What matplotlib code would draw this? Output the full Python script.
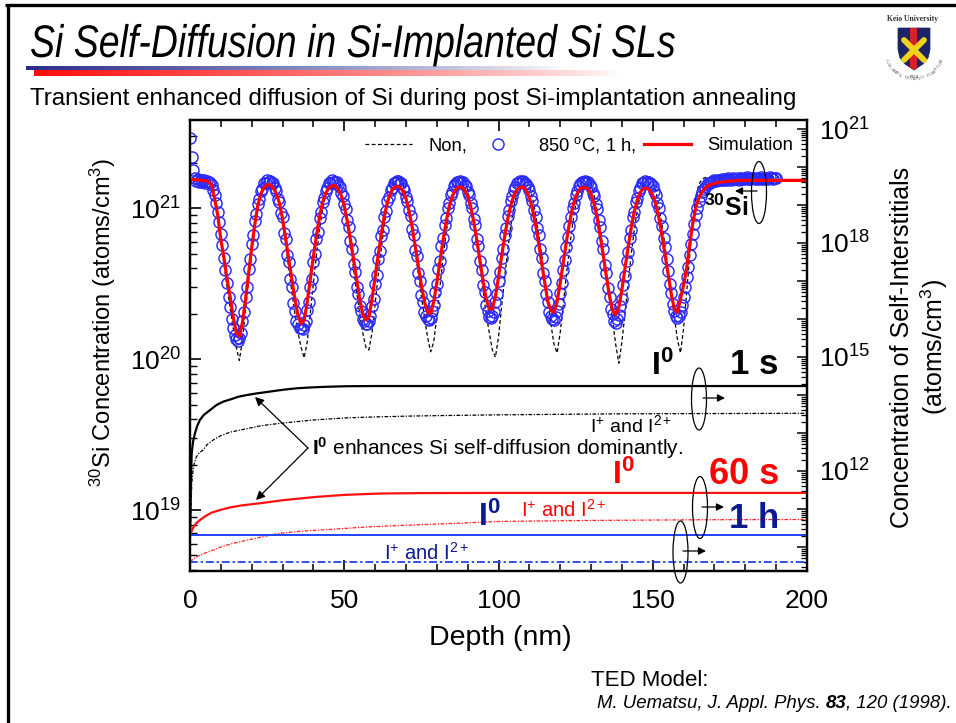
import numpy as np
import matplotlib
matplotlib.use("Agg")
import matplotlib.pyplot as plt
from matplotlib import font_manager
from matplotlib.ticker import LogLocator, FuncFormatter, MultipleLocator, NullFormatter
from matplotlib.patches import Ellipse, Polygon, Rectangle, PathPatch
from matplotlib.lines import Line2D
from matplotlib.textpath import TextPath
from matplotlib.font_manager import FontProperties
from matplotlib.transforms import Affine2D

plt.rcParams['font.family'] = ['Liberation Sans', 'DejaVu Sans']
plt.rcParams['mathtext.fontset'] = 'custom'
plt.rcParams['mathtext.rm'] = 'Liberation Sans'
plt.rcParams['mathtext.it'] = 'Liberation Sans:italic'
plt.rcParams['mathtext.bf'] = 'Liberation Sans:bold'
plt.rcParams['mathtext.default'] = 'regular'

# ---------------- data ----------------
# Simulation (850 C, 1 h), 30Si concentration in units of 1e20 atoms/cm3, every 1 nm 0..200
sim_e20 = [
    15.5, 15.5, 15.4, 15.4, 15.3, 15.2, 15.0, 14.3, 11.5, 9.0,
    6.2, 4.7, 3.4, 2.6, 1.9, 1.5, 1.42, 1.75, 2.5, 3.7,
    5.5, 7.8, 10.5, 12.5, 13.7, 14.3, 14.3, 13.6, 12.5, 10.8,
    8.5, 6.3, 4.6, 3.4, 2.5, 1.95, 1.72, 1.8, 2.4, 3.4,
    4.8, 6.6, 8.8, 11.0, 12.6, 13.6, 14.1, 14.1, 13.4, 12.2,
    10.4, 8.2, 6.2, 4.6, 3.4, 2.5, 2.0, 1.82, 1.9, 2.5,
    3.5, 4.9, 6.7, 8.9, 11.0, 12.6, 13.6, 14.0, 13.8, 13.0,
    11.6, 9.6, 7.5, 5.6, 4.2, 3.1, 2.4, 2.05, 2.0, 2.4,
    3.2, 4.4, 6.1, 8.1, 10.2, 12.0, 13.2, 13.8, 13.8, 13.2,
    12.0, 10.2, 8.1, 6.1, 4.5, 3.3, 2.5, 2.15, 2.15, 2.6,
    3.5, 4.8, 6.5, 8.5, 10.5, 12.2, 13.3, 13.8, 13.8, 13.1,
    11.8, 9.9, 7.8, 5.9, 4.3, 3.2, 2.4, 2.1, 2.05, 2.4,
    3.2, 4.4, 6.0, 8.0, 10.1, 11.9, 13.1, 13.7, 13.8, 13.4,
    12.4, 10.7, 8.6, 6.5, 4.8, 3.5, 2.6, 2.1, 1.97, 2.2,
    2.9, 4.0, 5.5, 7.4, 9.5, 11.4, 12.8, 13.5, 13.6, 13.2,
    12.2, 10.6, 8.6, 6.6, 4.9, 3.6, 2.7, 2.15, 2.05, 2.5,
    3.1, 4.0, 5.8, 8.0, 10.2, 11.8, 12.9, 13.6, 14.1, 14.4,
    14.6, 14.8, 14.9, 15.0, 15.1, 15.1, 15.2, 15.2, 15.3, 15.3,
    15.3, 15.3, 15.3, 15.3, 15.3, 15.3, 15.3, 15.3, 15.3, 15.3,
    15.3, 15.3, 15.3, 15.3, 15.3, 15.3, 15.3, 15.3, 15.3, 15.3,
    15.3]
sim_depth = np.arange(len(sim_e20)) * 1.0

# As-grown ("Non") profile, 1e20 units, every 1 nm 0..190
non_e20 = [
    15.8, 15.6, 15.7, 15.5, 15.6, 15.4, 15.3, 14.5, 11.5, 8.5,
    6.0, 4.3, 3.0, 2.2, 1.6, 1.2, 0.98, 1.35, 2.1, 3.3,
    5.0, 7.4, 10.2, 12.8, 14.8, 16.0, 16.8, 15.5, 13.0, 10.5,
    8.0, 5.8, 4.0, 2.8, 2.0, 1.5, 1.2, 1.02, 1.3, 2.0,
    3.2, 4.9, 7.2, 9.8, 12.4, 14.5, 15.8, 16.3, 15.3, 13.0,
    10.4, 7.9, 5.7, 4.0, 2.8, 2.0, 1.5, 1.2, 1.15, 1.5,
    2.3, 3.6, 5.4, 7.8, 10.5, 13.0, 15.0, 16.0, 16.2, 14.6,
    12.2, 9.6, 7.2, 5.2, 3.7, 2.6, 1.9, 1.4, 1.12, 1.3,
    1.9, 3.0, 4.6, 6.8, 9.4, 12.0, 14.3, 15.7, 16.3, 15.4,
    13.2, 10.6, 8.0, 5.8, 4.1, 2.9, 2.0, 1.5, 1.15, 1.03,
    1.4, 2.2, 3.5, 5.3, 7.7, 10.3, 12.8, 14.9, 16.0, 15.9,
    14.2, 11.8, 9.2, 6.8, 4.9, 3.4, 2.4, 1.7, 1.25, 1.1,
    1.5, 2.3, 3.6, 5.4, 7.8, 10.4, 12.9, 14.9, 16.0, 16.2,
    14.6, 12.2, 9.6, 7.2, 5.2, 3.7, 2.6, 1.8, 1.25, 0.94,
    1.3, 2.0, 3.2, 4.9, 7.2, 9.8, 12.4, 14.6, 15.9, 16.4,
    15.2, 12.9, 10.3, 7.8, 5.6, 3.9, 2.7, 1.9, 1.35, 1.1,
    1.6, 2.8, 5.0, 8.5, 12.0, 14.5, 15.6, 16.0, 15.8, 15.9,
    15.7, 15.8, 16.0, 15.8, 15.9, 15.7, 15.8, 16.0, 15.9, 15.8,
    15.9, 15.7, 15.8, 16.0, 15.9, 15.8, 15.7, 15.9, 15.8, 16.0,
    15.9]
non_depth = np.arange(len(non_e20)) * 1.0

# Measured 850 C 1 h profile, 1e20 units, every 0.5 nm 0..190
meas_e20 = [
    29, 22, 18, 15.8, 15.2, 15.6, 14.9, 15.4, 15.0, 15.3, 14.8, 15.2, 14.9, 14.6,
    14.2, 13.3, 12.2, 10.9, 9.5, 8.1, 6.8, 5.7, 4.7, 3.9, 3.2, 2.6, 2.2, 1.85, 1.6, 1.45, 1.37,
    1.32,
    1.38, 1.50, 1.80, 2.05, 2.6, 3.0, 3.95, 4.6, 5.8, 6.6, 8.2, 9.1, 10.7, 11.5, 13.0, 13.5, 14.6, 14.7, 15.3, 15.0,
    15.2, 14.6, 14.7, 13.6, 13.1, 11.6, 11.0, 9.3, 8.7, 6.9, 6.3, 4.9, 4.4, 3.4, 3.0, 2.35, 2.1, 1.78, 1.72, 1.62, 1.6,
    1.58,
    1.68, 1.80, 2.12, 2.4, 3.0, 3.4, 4.4, 5.0, 6.3, 7.0, 8.6, 9.4, 11.0, 11.7, 13.1, 13.6, 14.7, 14.6, 15.3, 15.0,
    14.9, 14.9, 14.3, 13.9, 12.7, 12.1, 10.6, 9.9, 8.3, 7.5, 6.1, 5.4, 4.3, 3.8, 3.0, 2.7, 2.25, 2.08, 1.85, 1.8, 1.7,
    1.7,
    1.8, 1.92, 2.25, 2.5, 3.15, 3.6, 4.6, 5.2, 6.5, 7.2, 8.8, 9.6, 11.1, 11.8, 13.2, 13.7, 14.6, 14.7, 15.2,
    15.1, 14.6, 14.6, 13.7, 13.3, 11.9, 11.2, 9.7, 8.9, 7.3, 6.7, 5.3, 4.8, 3.7, 3.3, 2.65, 2.4, 2.05, 1.92, 1.84,
    1.82,
    1.88, 2.1, 2.3, 2.8, 3.15, 3.95, 4.5, 5.6, 6.4, 7.7, 8.6, 10.1, 10.8, 12.3, 12.9, 14.0, 14.4, 14.9, 15.0, 15.2,
    14.8, 14.9, 14.3, 14.0, 12.9, 12.3, 10.8, 10.1, 8.5, 7.7, 6.3, 5.6, 4.5, 3.9, 3.1, 2.8, 2.3, 2.1, 1.9,
    1.86,
    1.92, 2.05, 2.4, 2.7, 3.3, 3.8, 4.7, 5.4, 6.6, 7.4, 8.9, 9.8, 11.1, 12.0, 13.2, 13.8, 14.6, 14.7, 15.2, 15.0,
    15.1, 14.7, 14.5, 13.8, 13.2, 12.0, 11.1, 9.8, 8.8, 7.4, 6.6, 5.4, 4.7, 3.75, 3.3, 2.7, 2.4, 2.05, 1.93, 1.85,
    1.82,
    1.9, 2.1, 2.32, 2.75, 3.2, 3.9, 4.55, 5.55, 6.45, 7.6, 8.7, 10.0, 10.9, 12.2, 13.0, 14.0, 14.4, 14.9, 15.0, 15.1,
    14.9, 14.9, 14.3, 13.9, 12.7, 12.1, 10.6, 9.9, 8.3, 7.5, 6.1, 5.35, 4.2, 3.7, 2.95, 2.6, 2.15, 2.0, 1.8,
    1.74,
    1.85, 1.95, 2.25, 2.5, 3.1, 3.55, 4.5, 5.1, 6.4, 7.2, 8.7, 9.5, 11.0, 11.7, 13.1, 13.6, 14.7, 14.7, 15.1, 15.0,
    14.9, 14.8, 14.4, 14.0, 13.0, 12.2, 10.9, 10.0, 8.6, 7.6, 6.4, 5.5, 4.6, 3.85, 3.15, 2.75, 2.32, 2.1, 1.92,
    1.86,
    1.92, 2.05, 2.3, 2.6, 3.0, 3.5, 4.1, 4.9, 5.8, 6.8, 7.9, 9.0, 10.1, 11.1, 12.0, 12.8, 13.4, 13.9, 14.3, 14.6,
    14.8, 15.0, 15.1, 15.3, 15.2, 15.4, 15.5, 15.3, 15.6, 15.5,
    15.7, 15.4, 15.8, 15.6, 15.5, 15.9, 15.7, 15.6, 15.8, 15.5,
    15.9, 15.7, 15.6, 15.8, 16.0, 15.7, 15.6, 15.9, 15.8, 15.6,
    15.9, 15.7, 15.8, 16.0, 15.7, 15.6, 15.9, 15.8, 15.7, 16.0,
    15.8, 15.7, 15.9, 15.8]
meas_depth = np.arange(len(meas_e20)) * 0.5

# Self-interstitial concentrations (atoms/cm3), right axis
i0_1s_x = [0, 0.25, 0.55, 1.0, 1.6, 2.3, 3.2, 4.5, 6.5, 8.5, 10.8, 13, 15.7, 18.5, 21.6,
           25, 28, 31, 34.6, 38, 42, 46, 50.8, 60, 70, 100, 150, 200]
i0_1s = [2.1e10, 4e11, 2.9e12, 6.0e12, 9.8e12, 1.5e13, 2.2e13, 3.0e13, 4.0e13, 5.4e13, 6.7e13,
         7.6e13, 9.0e13, 1.0e14, 1.1e14, 1.2e14, 1.3e14, 1.4e14, 1.5e14, 1.56e14, 1.62e14,
         1.66e14, 1.7e14, 1.72e14, 1.72e14, 1.72e14, 1.72e14, 1.72e14]
ip_1s_x = [0, 0.3, 0.6, 1.1, 2, 3, 4.3, 5.5, 7.6, 10, 13, 18.4, 23, 29.2, 35, 40, 50.8, 60,
           72.4, 85, 100, 120, 140, 170, 200]
ip_1s = [4e9, 1e11, 5e11, 1.3e12, 2.3e12, 3.0e12, 3.6e12, 4.9e12, 6.6e12, 8.5e12, 1.05e13,
         1.3e13, 1.55e13, 1.8e13, 2.0e13, 2.2e13, 2.5e13, 2.65e13, 2.8e13, 2.9e13, 3.0e13,
         3.1e13, 3.2e13, 3.25e13, 3.3e13]
i0_60s_x = [0, 1, 2, 3.2, 5, 7, 9.7, 13, 17, 23.8, 30, 40, 50, 61.6, 75, 100, 150, 200]
i0_60s = [2.1e10, 3.2e10, 4.2e10, 5.1e10, 6.5e10, 8.0e10, 9.4e10, 1.1e11, 1.25e11, 1.45e11,
          1.7e11, 2.05e11, 2.35e11, 2.55e11, 2.62e11, 2.65e11, 2.65e11, 2.65e11]
ip_60s_x = [0, 2, 5, 7.6, 10, 14, 18.4, 24, 29.2, 36, 45.4, 58, 72.4, 86, 100.5, 130, 165, 200]
ip_60s = [4.1e9, 5.5e9, 7.0e9, 8.3e9, 1.0e10, 1.25e10, 1.5e10, 1.9e10, 2.3e10, 2.6e10, 2.9e10,
          3.4e10, 3.8e10, 4.2e10, 4.7e10, 5.0e10, 5.2e10, 5.3e10]
i0_1h_x = [0, 200]
i0_1h = [2.1e10, 2.1e10]
ip_1h_x = [0, 200]
ip_1h = [4.0e9, 4.0e9]

x_ticks = [0, 50, 100, 150, 200]
legend_labels = ['Non,', '850 $^{o}$C, 1 h,', 'Simulation']

# ---------------- figure ----------------
W, H = 956, 723
fig = plt.figure(figsize=(W / 100, H / 100), dpi=100)
fig.patch.set_facecolor('white')

AX_L, AX_R, AX_T, AX_B = 190, 807, 120, 571
ax = fig.add_axes([AX_L / W, 1 - AX_B / H, (AX_R - AX_L) / W, (AX_B - AX_T) / H])
ax.set_facecolor('white')
ax.set_yscale('log')
ax.set_xlim(0, 200)
ax.set_ylim(10 ** 18.596, 10 ** 21.585)

circ_col = '#2a2aff'
ax.plot(non_depth, np.array(non_e20) * 1e20, color='k', lw=0.9, dashes=(3, 2), zorder=1)
ax.plot(meas_depth, np.array(meas_e20) * 1e20, ls='none', marker='o', ms=8.0, mfc='none',
        mec=circ_col, mew=1.05, zorder=2)
ax.plot(sim_depth, np.array(sim_e20) * 1e20, color='#ff0000', lw=2.3, zorder=3)

ax2 = ax.twinx()
ax2.set_yscale('log')
ax2.set_ylim(10 ** 9.368, 10 ** 21.237)
ax2.plot(i0_1s_x, i0_1s, color='k', lw=1.6)
ax2.plot(ip_1s_x, ip_1s, color='k', lw=0.9, dashes=(3, 1.2, 1, 1.2))
ax2.plot(i0_60s_x, i0_60s, color='#ff1010', lw=1.6)
ax2.plot(ip_60s_x, ip_60s, color='#ff2020', lw=0.9, dashes=(3, 1.2, 1, 1.2))
ax2.plot(i0_1h_x, i0_1h, color='#2040ff', lw=1.4)
ax2.plot(ip_1h_x, ip_1h, color='#3050e8', lw=1.4, dashes=(4, 1.5, 1.2, 1.5))

# axes styling
for a in (ax, ax2):
    for sp in a.spines.values():
        sp.set_linewidth(1.6)
ax.xaxis.set_major_locator(MultipleLocator(50))
ax.xaxis.set_minor_locator(MultipleLocator(10))
ax.set_xticks(x_ticks)
ax.tick_params(axis='x', which='both', direction='in', top=True, bottom=True,
               labelsize=19, pad=13)
ax.tick_params(axis='x', which='major', length=8, width=1.2)
ax.tick_params(axis='x', which='minor', length=5, width=1.1)
ax.yaxis.set_major_locator(LogLocator(base=10, numticks=20))
ax.yaxis.set_minor_locator(LogLocator(base=10, subs=np.arange(2, 10) * 1.0, numticks=20))
ax.yaxis.set_minor_formatter(NullFormatter())
ax.tick_params(axis='y', which='both', direction='in', left=True, right=False,
               labelsize=19, pad=6)
ax.tick_params(axis='y', which='major', length=8, width=1.2)
ax.tick_params(axis='y', which='minor', length=5, width=1.0)

ax2.yaxis.set_major_locator(LogLocator(base=10, numticks=40))
ax2.yaxis.set_minor_locator(LogLocator(base=10, subs=np.arange(2, 10) * 1.0, numticks=40))
ax2.yaxis.set_minor_formatter(NullFormatter())


def rfmt(v, pos):
    e = int(round(np.log10(v)))
    return r'$\mathdefault{10^{%d}}$' % e if (e % 3 == 0 and 10 <= e <= 21) else ''


ax2.yaxis.set_major_formatter(FuncFormatter(rfmt))
ax2.tick_params(axis='y', which='both', direction='in', right=True, labelsize=19, pad=9)
ax2.tick_params(axis='y', which='major', length=7, width=1.1)
ax2.tick_params(axis='y', which='minor', length=4, width=0.9)

# legend
h_non = Line2D([], [], color='k', lw=0.9, dashes=(3, 2))
h_circ = Line2D([], [], ls='none', marker='o', ms=8.0, mfc='none', mec=circ_col, mew=1.05)
h_sim = Line2D([], [], color='#ff0000', lw=2.3)
ax2.legend([h_non, h_circ, h_sim], legend_labels, ncol=3, loc='center right',
           bbox_to_anchor=(0.9775, 0.9446), frameon=False, fontsize=13.2, handlelength=2.6,
           handletextpad=0.87, columnspacing=0.4, borderpad=0, borderaxespad=0)

# ---------------- overlay (pixel coordinates, y downward) ----------------
ov = fig.add_axes([0, 0, 1, 1])
ov.set_zorder(5)
ov.set_xlim(0, W)
ov.set_ylim(H, 0)
ov.set_autoscale_on(False)
ov.axis('off')
ov.patch.set_alpha(0)

names = {f.name for f in font_manager.fontManager.ttflist}
if 'Liberation Sans Narrow' in names:
    NFAM, NSX = 'Liberation Sans Narrow', 1.0
else:
    NFAM, NSX = 'Liberation Sans', 0.82


def path_text(x, y, s, px, style='normal', sx=1.0, color='k', weight='normal', family=None):
    tp = TextPath((0, 0), s, size=px,
                  prop=FontProperties(family=family or NFAM, style=style, weight=weight))
    p = Affine2D().scale(sx, -1).translate(x, y).transform_path(tp)
    ov.add_patch(PathPatch(p, fc=color, ec='none', lw=0))


# frame
ov.add_line(Line2D([5, W], [4.5, 4.5], color='k', lw=2.4, solid_capstyle='butt'))
ov.add_line(Line2D([8, 8], [3.5, H], color='k', lw=2.4, solid_capstyle='butt'))

# title
path_text(30, 57, 'Si Self-Diffusion in Si-Implanted Si SLs', 45.7, style='italic', sx=NSX)

# gradient bars
n = 256
blue = np.zeros((1, n, 4))
blue[..., 0] = 0.17
blue[..., 1] = 0.17
blue[..., 2] = 0.55
blue[..., 3] = np.linspace(1, 0, n) ** 0.8
ov.imshow(blue, extent=(26, 565, 70, 66), aspect='auto', interpolation='bilinear', zorder=1)
red = np.zeros((1, n, 4))
red[..., 0] = 1.0
red[..., 1] = 0.05
red[..., 2] = 0.05
red[..., 3] = np.linspace(1, 0, n) ** 0.8
ov.imshow(red, extent=(34, 620, 76, 70), aspect='auto', interpolation='bilinear', zorder=1)
ov.set_xlim(0, W)
ov.set_ylim(H, 0)

# subtitle
ov.text(30, 105, 'Transient enhanced diffusion of Si during post Si-implantation annealing',
        fontsize=17.35, ha='left', va='baseline')

# Keio logo
ov.text(913, 19, 'Keio University', fontsize=5.5, ha='center', va='center',
        family='Liberation Serif', weight='bold', color='#333333')
shield_pts = [(898, 28), (930, 28), (930, 50), (928, 58), (923, 64), (914, 70), (905, 64),
              (900, 58), (898, 50)]
shield = Polygon(shield_pts, closed=True, fc='#1c2466', ec='#1c2466', lw=0.5)
ov.add_patch(shield)
stripe = Rectangle((910.5, 27), 7, 45, fc='#d8202a', ec='none')
ov.add_patch(stripe)
stripe.set_clip_path(shield)
ov.add_line(Line2D([904, 924], [40, 60], color='#f2d21a', lw=4.2, solid_capstyle='round'))
ov.add_line(Line2D([924, 904], [40, 60], color='#f2d21a', lw=4.2, solid_capstyle='round'))
motto = 'CALAMVS GLADIO FORTIOR'
angs = np.linspace(205, 335, len(motto))
for ch, a in zip(motto, angs):
    r = 31
    cx, cy = 914 + r * np.cos(np.radians(a)), 48 - r * np.sin(np.radians(a))
    ov.text(cx, cy, ch, fontsize=3.6, ha='center', va='center', family='Liberation Serif',
            rotation=a - 270, color='#444444')
ov.text(914, 77, '1858', fontsize=3.6, ha='center', va='center', family='Liberation Serif',
        color='#444444')

# axis labels
ov.text(103, 322, '$^{30}$Si Concentration (atoms/cm$^{3}$)', fontsize=17, rotation=90,
        ha='center', va='center')
ov.text(920, 347, 'Concentration of Self-Interstitials\n(atoms/cm$^{3}$)', fontsize=18,
        rotation=90, ha='center', va='center', multialignment='center', linespacing=1.15)
ov.text(500, 638, 'Depth (nm)', fontsize=20.5, ha='center', va='center')

# annotations
navy = '#0a1a90'
ov.text(726, 208, r'$\mathbf{^{30}Si}$', fontsize=18, ha='center', va='center')
ov.text(662, 366, r'$\mathbf{I^{0}}$', fontsize=23, ha='center', va='center')
ov.text(754, 365, '1 s', fontsize=25, weight='bold', ha='center', va='center')
ov.text(623, 475, r'$\mathbf{I^{0}}$', fontsize=23, ha='center', va='center', color='#ff0000')
ov.text(744, 475, '60 s', fontsize=26, weight='bold', ha='center', va='center', color='#ff0000')
ov.text(489, 517, r'$\mathbf{I^{0}}$', fontsize=23, ha='center', va='center', color=navy)
ov.text(754, 518, '1 h', fontsize=25, weight='bold', ha='center', va='center', color=navy)
ov.text(631, 425, 'I$^{+}$ and I$^{2+}$', fontsize=14, ha='center', va='center')
ov.text(563, 510, 'I$^{+}$ and I$^{2+}$', fontsize=14.5, ha='center', va='center', color='#ff0000')
ov.text(426, 553, 'I$^{+}$ and I$^{2+}$', fontsize=14.5, ha='center', va='center', color=navy)
ov.text(312, 448, r'$\mathbf{I^{0}}$ enhances Si self-diffusion dominantly.', fontsize=15,
        ha='left', va='center')
for tip in [(255, 397), (256, 500)]:
    ov.annotate('', xy=tip, xytext=(308, 448),
                arrowprops=dict(arrowstyle='-|>', color='k', lw=0.9, mutation_scale=13,
                                shrinkA=0, shrinkB=0))

# ellipses + axis arrows
for (cx, cy, ax0, ax1, ay) in [(759, 192.5, 757, 735, 191), (699, 399, 703, 725, 398),
                               (700, 507.5, 702, 724, 507), (680.5, 552, 683, 706, 551)]:
    ov.add_patch(Ellipse((cx, cy), 15, 62, fc='none', ec='k', lw=0.9, clip_on=False))
    ov.annotate('', xy=(ax1, ay), xytext=(ax0, ay),
                arrowprops=dict(arrowstyle='-|>', color='k', lw=0.9, mutation_scale=11,
                                shrinkA=0, shrinkB=0))

# reference text
ov.text(591, 680, 'TED Model:', fontsize=16, ha='left', va='center')
rend = fig.canvas.get_renderer()
cur = 597
for s, wgt in [('M. Uematsu, J. Appl. Phys. ', 'normal'), ('83', 'bold'),
               (', 120 (1998).', 'normal')]:
    t = ov.text(cur, 703, s, fontsize=13.4, style='italic', weight=wgt, ha='left', va='center')
    bb = t.get_window_extent(renderer=rend)
    cur += bb.width

fig.savefig('out.png', dpi=100, facecolor='white')
